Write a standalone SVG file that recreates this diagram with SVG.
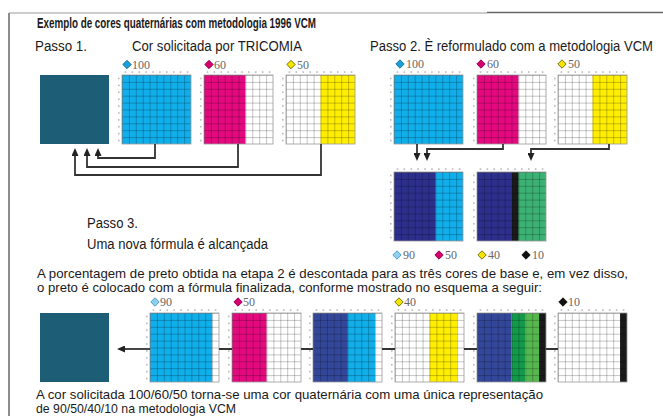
<svg xmlns="http://www.w3.org/2000/svg" xmlns:xlink="http://www.w3.org/1999/xlink" width="663" height="416" viewBox="0 0 663 416">
<style>
.t{font-family:"Liberation Sans Narrow","Liberation Sans",Arial,sans-serif;font-size:14px;fill:#1a1a1a}
.p{font-size:13.5px}
.tb{font-weight:bold;font-size:15px}
.n{font-family:"Liberation Serif","Times New Roman",serif;font-size:12px;fill:#666}
.cn{fill:none;stroke:#333;stroke-width:1.8}
.gf{fill:none;stroke:#9a9a9a;stroke-width:0.8}
.bg{fill:#fff}
.gl{fill:url(#gl)}
.cy{fill:#10aeea}
.mg{fill:#e4097f}
.ye{fill:#ffee00}
.nv{fill:#2c2f8c}
.nv2{fill:#33479a}
.gr{fill:#3bb273}
.dg{fill:#12994a}
.lg{fill:#55b74e}
.bk{fill:#1a1a1a}
.teal{fill:#1d5d76}
</style>
<defs>
<pattern id="gl" width="6.9" height="6.9" patternUnits="userSpaceOnUse">
<rect width="6.9" height="0.7" fill="#000" fill-opacity="0.32"/>
<rect width="0.7" height="6.9" fill="#000" fill-opacity="0.32"/>
</pattern>
<g id="tk" fill="#aaa">
<rect x="2.65" y="-3.6" width="1.6" height="1.3"/><rect x="9.55" y="-3.6" width="1.6" height="1.3"/><rect x="16.45" y="-3.6" width="1.6" height="1.3"/><rect x="23.35" y="-3.6" width="1.6" height="1.3"/><rect x="30.25" y="-3.6" width="1.6" height="1.3"/><rect x="37.15" y="-3.6" width="1.6" height="1.3"/><rect x="44.05" y="-3.6" width="1.6" height="1.3"/><rect x="50.95" y="-3.6" width="1.6" height="1.3"/><rect x="57.85" y="-3.6" width="1.6" height="1.3"/><rect x="64.75" y="-3.6" width="1.6" height="1.3"/>
<rect y="2.65" x="-3.8" height="1.6" width="1.3"/><rect y="9.55" x="-3.8" height="1.6" width="1.3"/><rect y="16.45" x="-3.8" height="1.6" width="1.3"/><rect y="23.35" x="-3.8" height="1.6" width="1.3"/><rect y="30.25" x="-3.8" height="1.6" width="1.3"/><rect y="37.15" x="-3.8" height="1.6" width="1.3"/><rect y="44.05" x="-3.8" height="1.6" width="1.3"/><rect y="50.95" x="-3.8" height="1.6" width="1.3"/><rect y="57.85" x="-3.8" height="1.6" width="1.3"/><rect y="64.75" x="-3.8" height="1.6" width="1.3"/>
</g>
<path id="dm" d="M0-4.2L4.2 0 0 4.2-4.2 0Z" stroke-width="0.9"/>
<marker id="ar" markerUnits="userSpaceOnUse" markerWidth="8" markerHeight="7" refX="6" refY="3.5" orient="auto">
<path d="M0 0L8 3.5 0 7Z" fill="#222"/>
</marker>
</defs>

<g id="frame">
<line x1="9" y1="13" x2="9" y2="416" stroke="#666" stroke-width="1.5"/>
<line x1="9" y1="13" x2="487" y2="13" stroke="#999" stroke-width="1.2"/>
<line x1="487" y1="12.5" x2="663" y2="12.5" stroke="#666" stroke-width="1.5"/>
</g>

<g id="texts">
<text class="t tb" x="37" y="28" textLength="279" lengthAdjust="spacingAndGlyphs">Exemplo de cores quaternárias com metodologia 1996 VCM</text>
<text class="t" x="35" y="51" textLength="52" lengthAdjust="spacingAndGlyphs">Passo 1.</text>
<text class="t" x="132" y="51" textLength="170" lengthAdjust="spacingAndGlyphs">Cor solicitada por TRICOMIA</text>
<text class="t" x="370" y="51" textLength="283" lengthAdjust="spacingAndGlyphs">Passo 2. È reformulado com a metodologia VCM</text>
<text class="t" x="87" y="228" textLength="51" lengthAdjust="spacingAndGlyphs">Passo 3.</text>
<text class="t" x="87" y="249" textLength="181" lengthAdjust="spacingAndGlyphs">Uma nova fórmula é alcançada</text>
<text class="t p" x="37" y="278" textLength="591" lengthAdjust="spacingAndGlyphs">A porcentagem de preto obtida na etapa 2 é descontada para as três cores de base e, em vez disso,</text>
<text class="t p" x="37" y="292" textLength="505" lengthAdjust="spacingAndGlyphs">o preto é colocado com a fórmula finalizada, conforme mostrado no esquema a seguir:</text>
<text class="t p" x="36" y="399" textLength="507" lengthAdjust="spacingAndGlyphs">A cor solicitada 100/60/50 torna-se uma cor quaternária com uma única representação</text>
<text class="t p" x="36" y="413" textLength="200" lengthAdjust="spacingAndGlyphs">de 90/50/40/10 na metodologia VCM</text>
</g>

<!-- Step 1 row -->
<g id="teal1"><rect class="teal" x="40" y="75" width="69" height="69"/></g>
<g id="g1" transform="translate(122,75)">
<rect class="cy" width="69" height="69"/><rect class="gl" width="69" height="69"/><rect class="gf" width="69" height="69"/><use xlink:href="#tk"/>
<use xlink:href="#dm" x="5" y="-10.5" fill="#1a9fd6" stroke="#0c6f9c"/><text class="n" x="10" y="-6.5">100</text>
</g>
<g id="g2" transform="translate(204,75)">
<rect class="bg" width="69" height="69"/><rect class="mg" width="41.4" height="69"/><rect class="gl" width="69" height="69"/><rect class="gf" width="69" height="69"/><use xlink:href="#tk"/>
<use xlink:href="#dm" x="5" y="-10.5" fill="#d6006f" stroke="#8a0048"/><text class="n" x="10" y="-6.5">60</text>
</g>
<g id="g3" transform="translate(286,75)">
<rect class="bg" width="69" height="69"/><rect class="ye" x="34.5" width="34.5" height="69"/><rect class="gl" width="69" height="69"/><rect class="gf" width="69" height="69"/><use xlink:href="#tk"/>
<use xlink:href="#dm" x="5" y="-10.5" fill="#f5e600" stroke="#6e6500"/><text class="n" x="11" y="-6.5">50</text>
</g>

<!-- Step 2 row -->
<g id="g4" transform="translate(394,75)">
<rect class="cy" width="69" height="69"/><rect class="gl" width="69" height="69"/><rect class="gf" width="69" height="69"/><use xlink:href="#tk"/>
<use xlink:href="#dm" x="6" y="-11" fill="#1a9fd6" stroke="#0c6f9c"/><text class="n" x="12" y="-7">100</text>
</g>
<g id="g5" transform="translate(477,75)">
<rect class="bg" width="69" height="69"/><rect class="mg" width="41.4" height="69"/><rect class="gl" width="69" height="69"/><rect class="gf" width="69" height="69"/><use xlink:href="#tk"/>
<use xlink:href="#dm" x="4" y="-11" fill="#d6006f" stroke="#8a0048"/><text class="n" x="10" y="-7">60</text>
</g>
<g id="g6" transform="translate(558,75)">
<rect class="bg" width="69" height="69"/><rect class="ye" x="34.5" width="34.5" height="69"/><rect class="gl" width="69" height="69"/><rect class="gf" width="69" height="69"/><use xlink:href="#tk"/>
<use xlink:href="#dm" x="4" y="-11" fill="#f5e600" stroke="#6e6500"/><text class="n" x="10" y="-7">50</text>
</g>

<g id="g7" transform="translate(394,172)">
<rect class="cy" width="69" height="69"/><rect class="nv" width="41.4" height="69"/><rect class="gl" width="69" height="69"/><rect class="gf" width="69" height="69"/><use xlink:href="#tk"/>
</g>
<g id="g8" transform="translate(477,172)">
<rect class="gr" width="69" height="69"/><rect class="nv" width="34.5" height="69"/><rect class="bk" x="34.5" width="6.9" height="69"/><rect class="gl" width="69" height="69"/><rect class="gf" width="69" height="69"/><use xlink:href="#tk"/>
</g>

<g id="legend2">
<use xlink:href="#dm" x="397" y="255" fill="#8fd0f0" stroke="#3f97c8"/><text class="n" x="403" y="259">90</text>
<use xlink:href="#dm" x="439" y="255" fill="#d6006f" stroke="#8a0048"/><text class="n" x="445" y="259">50</text>
<use xlink:href="#dm" x="482" y="255" fill="#f5e600" stroke="#6e6500"/><text class="n" x="488" y="259">40</text>
<use xlink:href="#dm" x="526" y="255" fill="#111" stroke="#111"/><text class="n" x="532" y="259">10</text>
</g>

<!-- Final row -->
<g id="teal2"><rect class="teal" x="40" y="313" width="69" height="69"/></g>
<g id="g9" transform="translate(150,313)">
<rect class="bg" width="69" height="69"/><rect class="cy" width="62.1" height="69"/><rect class="gl" width="69" height="69"/><rect class="gf" width="69" height="69"/><use xlink:href="#tk"/>
<use xlink:href="#dm" x="5" y="-11" fill="#8fd0f0" stroke="#3f97c8"/><text class="n" x="10" y="-7">90</text>
</g>
<g id="g10" transform="translate(232,313)">
<rect class="bg" width="69" height="69"/><rect class="mg" width="34.5" height="69"/><rect class="gl" width="69" height="69"/><rect class="gf" width="69" height="69"/><use xlink:href="#tk"/>
<use xlink:href="#dm" x="6" y="-11" fill="#d6006f" stroke="#8a0048"/><text class="n" x="11" y="-7">50</text>
</g>
<g id="g11" transform="translate(313,313)">
<rect class="bg" width="69" height="69"/><rect class="cy" width="62.1" height="69"/><rect class="nv2" width="34.5" height="69"/><rect class="gl" width="69" height="69"/><rect class="gf" width="69" height="69"/><use xlink:href="#tk"/>
</g>
<g id="g12" transform="translate(395,313)">
<rect class="bg" width="69" height="69"/><rect class="ye" x="34.5" width="27.6" height="69"/><rect class="gl" width="69" height="69"/><rect class="gf" width="69" height="69"/><use xlink:href="#tk"/>
<use xlink:href="#dm" x="4" y="-11" fill="#f5e600" stroke="#6e6500"/><text class="n" x="9" y="-7">40</text>
</g>
<g id="g13" transform="translate(477,313)">
<rect class="nv2" width="34.5" height="69"/><rect class="dg" x="34.5" width="13.8" height="69"/><rect class="lg" x="48.3" width="13.8" height="69"/><rect class="bk" x="62.1" width="6.9" height="69"/><rect class="gl" width="69" height="69"/><rect class="gf" width="69" height="69"/><use xlink:href="#tk"/>
</g>
<g id="g14" transform="translate(558,313)">
<rect class="bg" width="69" height="69"/><rect class="bk" x="62.1" width="6.9" height="69"/><rect class="gl" width="69" height="69"/><rect class="gf" width="69" height="69"/><use xlink:href="#tk"/>
<use xlink:href="#dm" x="5" y="-11" fill="#111" stroke="#111"/><text class="n" x="10" y="-7">10</text>
</g>

<g id="connectors">
<path class="cn" d="M155 144V158H98V150" marker-end="url(#ar)"/>
<path class="cn" d="M238 144V167H87V150" marker-end="url(#ar)"/>
<path class="cn" d="M321 144V175H75V150" marker-end="url(#ar)"/>
<path class="cn" d="M417 144V159" marker-end="url(#ar)"/>
<path class="cn" d="M503 144V149H427V159" marker-end="url(#ar)"/>
<path class="cn" d="M609 144V149H531V159" marker-end="url(#ar)"/>
<path class="cn" d="M150 349H119" marker-end="url(#ar)"/>
<path class="cn" d="M219 349H232M301 349H313M382 349H395M464 349H477M546 349H558"/>
</g>
</svg>
